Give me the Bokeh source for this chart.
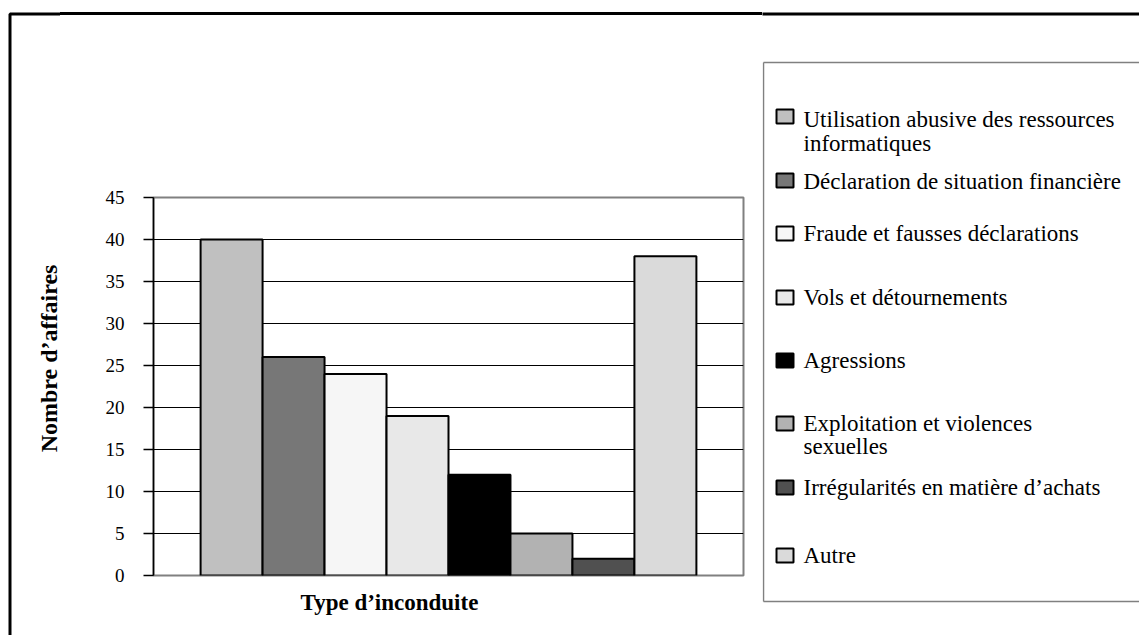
import math

from bokeh.plotting import figure
from bokeh.layouts import row, column
from bokeh.models import ColumnDataSource, Range1d, FixedTicker, Title, Div
from bokeh.core.properties import value
from bokeh.embed import file_html
from bokeh.resources import INLINE

# --- data -------------------------------------------------------------
categories = [
    "Utilisation abusive des ressources informatiques",
    "Déclaration de situation financière",
    "Fraude et fausses déclarations",
    "Vols et détournements",
    "Agressions",
    "Exploitation et violences sexuelles",
    "Irrégularités en matière d’achats",
    "Autre",
]
counts = [40, 26, 24, 19, 12, 5, 2, 38]
legend_lines = [
    ["Utilisation abusive des ressources", "informatiques"],
    ["Déclaration de situation financière"],
    ["Fraude et fausses déclarations"],
    ["Vols et détournements"],
    ["Agressions"],
    ["Exploitation et violences", "sexuelles"],
    ["Irrégularités en matière d’achats"],
    ["Autre"],
]
y_ticks = [0, 5, 10, 15, 20, 25, 30, 35, 40, 45]
y_title = "Nombre d’affaires"
x_title = "Type d’inconduite"

# --- styling ----------------------------------------------------------
fills = ["#c0c0c0", "#777777", "#f6f6f6", "#e8e8e8",
         "#000000", "#b2b2b2", "#505050", "#dadada"]
SERIF = "Liberation Serif"
BORDER_W = 3
BORDER_Y = 13.5      # centre of the outer border's top edge
BORDER_X = 9.5       # centre of the outer border's left edge

W, H = 1139, 635
LEFT_W = 60          # strip holding the vertical title
TOP_H = 100          # strip above the chart
LEG_X = 762          # where the legend column starts
FL, FR, FT, FB = 153, 743, 197, 575   # plot frame edges on the page


def strip(x0, x1, y0, y1):
    """A bare figure whose data coordinates are page pixels (y downward)."""
    f = figure(width=x1 - x0, height=y1 - y0, output_backend="svg",
               toolbar_location=None, tools="", title=None,
               x_axis_type=None, y_axis_type=None,
               x_range=Range1d(x0, x1), y_range=Range1d(y1, y0),
               min_border=0)
    f.outline_line_color = None
    f.background_fill_color = "white"
    f.border_fill_color = "white"
    return f


# --- left strip: outer border + vertical axis title --------------------
left = strip(0, LEFT_W, 0, H)
left.line(x=[BORDER_X, BORDER_X, LEFT_W + 2], y=[H + 5, BORDER_Y, BORDER_Y],
          line_color="black", line_width=BORDER_W)
left.text(x=[48], y=[358], text=[y_title], angle=math.pi / 2,
          text_align="center", text_baseline="middle",
          text_font=value(SERIF), text_font_size=value("24px"),
          text_font_style="bold", text_color="black")

# --- top strip: outer border (plain HTML rule) -------------------------
top = Div(
    text=('<div style="padding-top:12px;margin:0;">'
          '<div style="height:3px;width:%dpx;background:#000;margin:0;"></div>'
          '</div>') % (LEG_X - LEFT_W),
    width=LEG_X - LEFT_W, height=TOP_H, margin=0,
)

# --- chart ---------------------------------------------------------------
p = figure(width=LEG_X - LEFT_W, height=H - TOP_H, output_backend="svg",
           toolbar_location=None, tools="", title=None,
           x_range=Range1d(-0.26, len(counts) + 0.5 + 0.76),
           y_range=Range1d(0, 45),
           min_border_left=FL - LEFT_W, min_border_right=LEG_X - FR,
           min_border_top=FT - TOP_H, min_border_bottom=H - FB)
p.background_fill_color = "white"
p.border_fill_color = "white"
p.outline_line_color = "#808080"
p.outline_line_width = 2

p.xaxis.visible = False
p.xgrid.visible = False
p.ygrid.grid_line_color = "black"
p.ygrid.grid_line_width = 1

ax = p.yaxis[0]
ax.ticker = FixedTicker(ticks=y_ticks)
ax.axis_line_color = "black"
ax.axis_line_width = 1.5
ax.major_tick_line_color = "black"
ax.major_tick_line_width = 1.5
ax.major_tick_out = 10
ax.major_tick_in = 0
ax.minor_tick_line_color = None
ax.major_label_standoff = 19
ax.major_label_text_font = SERIF
ax.major_label_text_font_size = "19px"
ax.major_label_text_color = "black"

src = ColumnDataSource(dict(
    x=list(range(1, len(counts) + 1)),
    count=counts,
    color=fills,
    name=categories,
))
p.vbar(x="x", top="count", bottom=0, width=1.0, source=src,
       fill_color="color", line_color="black", line_width=2)

p.add_layout(Title(text=x_title, align="left", offset=147,
                   vertical_align="top", standoff=28,
                   text_font=SERIF, text_font_size="23px",
                   text_font_style="bold", text_color="black"), "below")

# --- legend column -------------------------------------------------------
leg = strip(LEG_X, W, 0, H)
leg.line(x=[LEG_X - 2, W], y=[BORDER_Y, BORDER_Y],
         line_color="black", line_width=BORDER_W)
# open-ended legend frame: left edge plus top and bottom edges
leg.multi_line(xs=[[LEG_X + 1, W], [LEG_X + 1, LEG_X + 1], [LEG_X + 1, W]],
               ys=[[62, 62], [62, 601], [601, 601]],
               line_color="#808080", line_width=1.5)

swatch_cy = [116, 180, 233, 297, 360, 423, 487, 555]
text_cy = [[119, 143], [181], [233], [297], [360], [423, 446], [487], [555]]
leg.quad(left=[776] * len(fills), right=[793] * len(fills),
         top=[c - 7 for c in swatch_cy], bottom=[c + 7 for c in swatch_cy],
         fill_color=fills, line_color="black", line_width=2)

tx, ty, tt = [], [], []
for lines, ys in zip(legend_lines, text_cy):
    for txt, yy in zip(lines, ys):
        tx.append(803)
        ty.append(yy)
        tt.append(txt)
leg.text(x=tx, y=ty, text=tt, text_align="left", text_baseline="middle",
         text_font=value(SERIF), text_font_size=value("23px"),
         text_color="black")

layout = row(left, column(top, p, spacing=0), leg, spacing=0)
open("out.html", "w").write(file_html(layout, INLINE))
